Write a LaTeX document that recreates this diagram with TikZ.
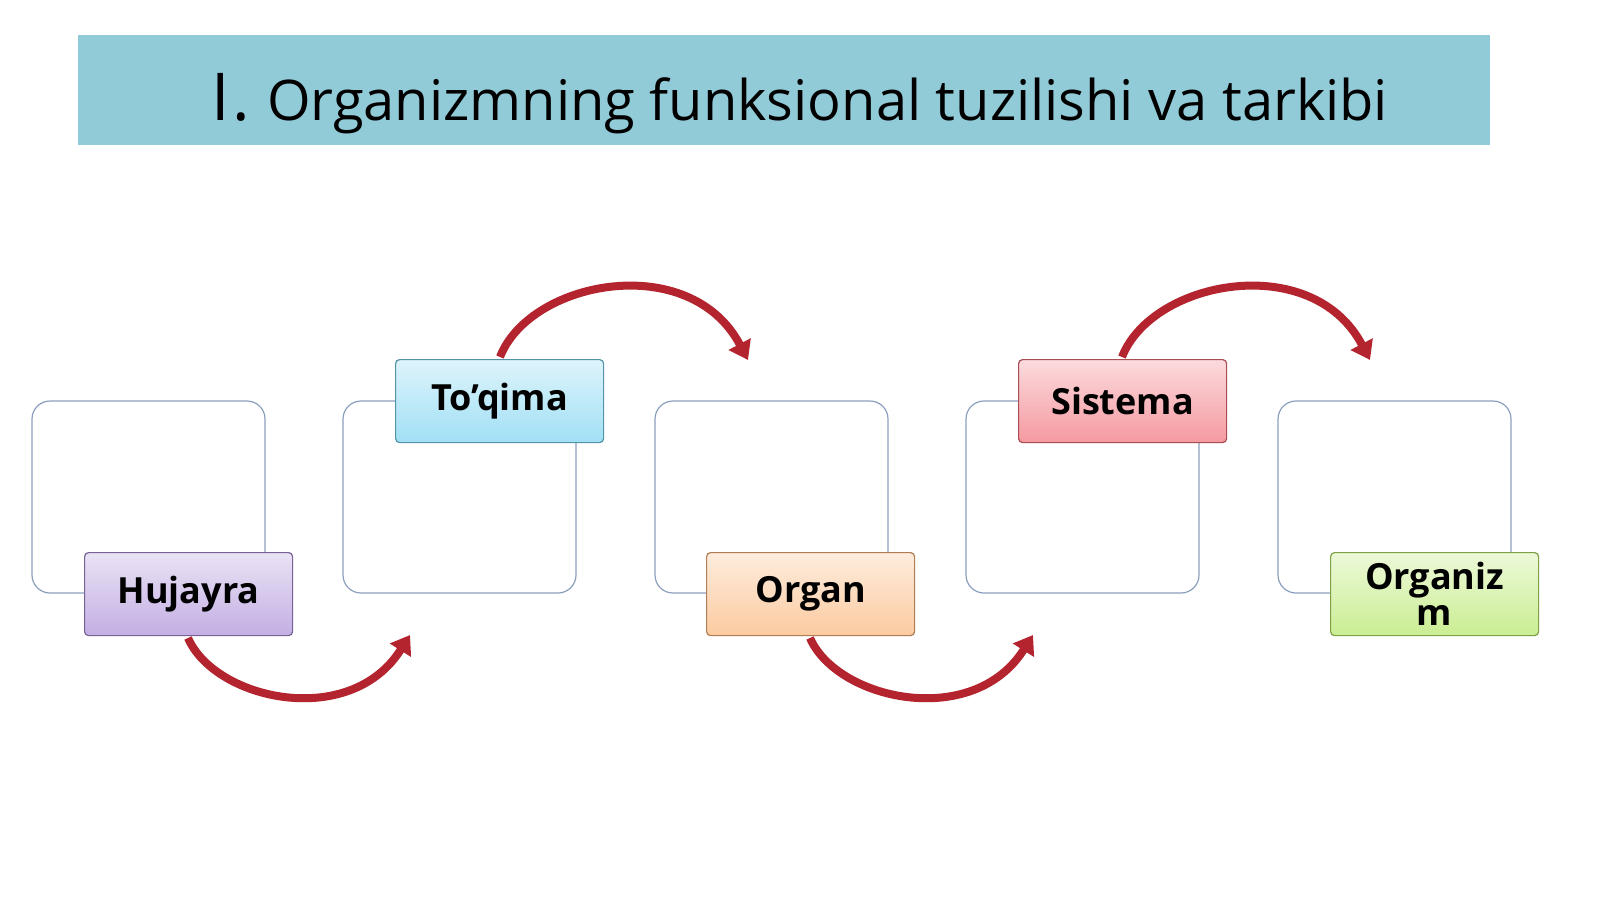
\documentclass[tikz,border=0pt]{standalone}
\usepackage{fontspec}
\setmainfont{Open Sans}
\usetikzlibrary{arrows.meta}
\definecolor{band}{RGB}{146,203,216}
\definecolor{arr}{RGB}{180,36,46}
\definecolor{boxline}{RGB}{140,160,190}
\begin{document}
\begin{tikzpicture}[x=0.5pt,y=-0.5pt,
  frame/.style={draw=boxline,line width=0.6pt,rounded corners=9pt,fill=white},
  lab/.style={draw=#1!70!black,line width=0.6pt,rounded corners=2pt,minimum width=104pt,minimum height=41.5pt,inner sep=1pt,
     font=\fontsize{18}{18}\selectfont\bfseries,align=center,anchor=north west,
     top color=#1!25!white,bottom color=#1!70!white},
  curvearrow/.style={draw=arr,line width=4pt,-{Triangle[length=9pt,width=12pt]}}]
\useasboundingbox (0,0) rectangle (1600,900);
\fill[white] (0,0) rectangle (1600,900);
\node[fill=band,minimum width=706pt,minimum height=55pt,anchor=north west,inner sep=0pt] (title) at (78,35) {};
\node (tt) at (800,104) {\fontsize{33}{33}\selectfont I\kern1pt. \fontsize{28}{28}\selectfont Organizmning funksional tuzilishi va tarkibi};
\foreach \i/\x in {1/32,2/343,3/655,4/966,5/1278}{
  \draw[frame] (\x,401) rectangle ++(233,192);
}
\definecolor{cp}{RGB}{170,140,215}
\definecolor{cb}{RGB}{120,210,240}
\definecolor{co}{RGB}{250,180,120}
\definecolor{cr}{RGB}{240,110,120}
\definecolor{cg}{RGB}{180,230,100}
\node[lab=cp] (h) at (84,552) {Hujayra};
\node[lab=cb] (t) at (395,359) {To’qima};
\node[lab=co] (o) at (706,552) {Organ};
\node[lab=cr] (s) at (1018,359) {Sistema};
\node[lab=cg] (z) at (1330,552) {Organiz\\m};
\coordinate (a1) at (410,635);
\coordinate (a2) at (748,360);
\coordinate (a3) at (1033,635);
\coordinate (a4) at (1370,360);
\draw[curvearrow] (188,638) .. controls (215,700) and (350,730) .. (a1);
\draw[curvearrow] (500,357) .. controls (530,280) and (690,250) .. (a2);
\draw[curvearrow] (810,638) .. controls (837,700) and (973,730) .. (a3);
\draw[curvearrow] (1122,357) .. controls (1152,280) and (1312,250) .. (a4);
\end{tikzpicture}
\end{document}
